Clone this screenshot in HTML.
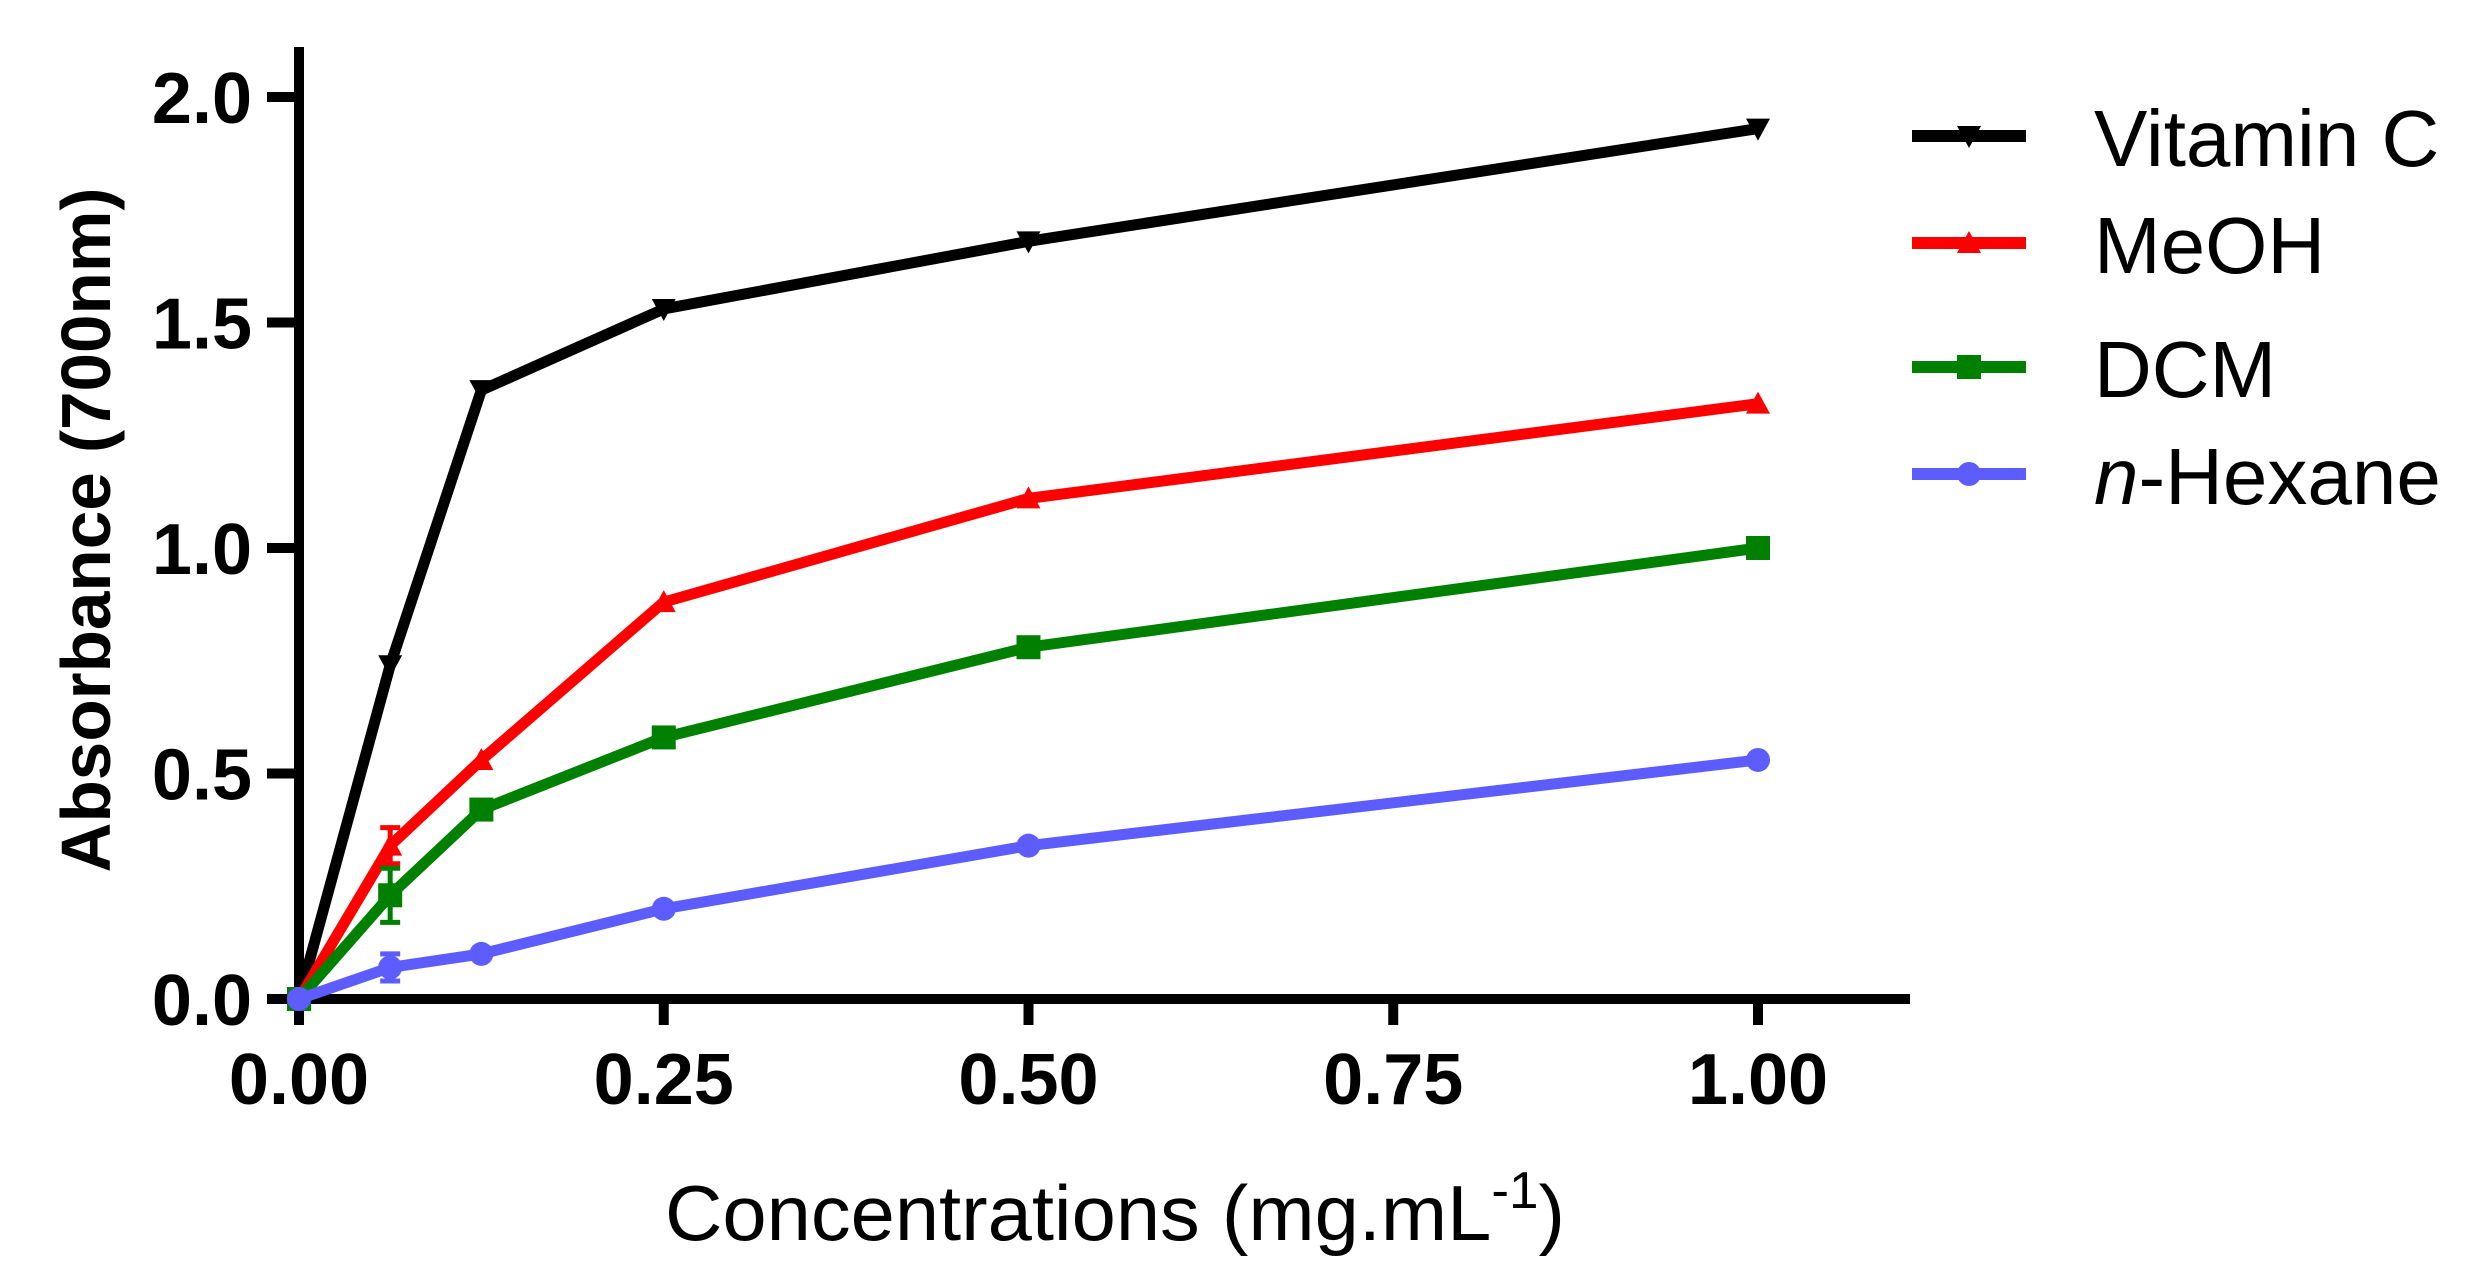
<!DOCTYPE html>
<html><head><meta charset="utf-8"><style>
html,body{margin:0;padding:0;background:#fff;}
svg{display:block;font-family:"Liberation Sans",sans-serif;}
</style></head><body>
<svg id="chart" width="2479" height="1275" viewBox="0 0 2479 1275">
<g id="axes"></g>
<g id="plot"></g>
<g id="legend"></g>
<text x="86" y="530" transform="rotate(-90 86 530)" text-anchor="middle" dominant-baseline="central" font-weight="bold" font-size="70" textLength="685" lengthAdjust="spacingAndGlyphs">Absorbance (700nm)</text>
<text x="1115" y="1240" text-anchor="middle" font-size="78" textLength="900" lengthAdjust="spacingAndGlyphs">Concentrations (mg.mL<tspan dy="-32" font-size="52">-1</tspan><tspan dy="32">)</tspan></text>
</svg>
<script>
const xValues = [0, 0.0625, 0.125, 0.25, 0.5, 1];
const vitaminC = [0, 0.74, 1.35, 1.53, 1.68, 1.93];
const meoh = [0, 0.34, 0.53, 0.88, 1.11, 1.32];
const dcm = [0, 0.23, 0.42, 0.58, 0.78, 1.0];
const hexane = [0, 0.07, 0.10, 0.20, 0.34, 0.53];
const meohErr = [0, 0.04, 0, 0, 0, 0];
const dcmErr = [0, 0.06, 0, 0, 0, 0];
const hexaneErr = [0, 0.03, 0, 0.01, 0, 0];
const xTicks = [0, 0.25, 0.5, 0.75, 1];
const xTickLabels = ["0.00", "0.25", "0.50", "0.75", "1.00"];
const yTicks = [0, 0.5, 1, 1.5, 2];
const yTickLabels = ["0.0", "0.5", "1.0", "1.5", "2.0"];
const seriesNames = ["Vitamin C", "MeOH", "DCM", "n-Hexane"];

const NS = "http://www.w3.org/2000/svg";
const X0 = 299, X1 = 1758, Y0 = 999, Y2 = 97;
function sx(v){ return X0 + v * (X1 - X0); }
function sy(v){ return Y0 - v * (Y0 - Y2) / 2; }
function mk(tag, attrs, parent){
  const e = document.createElementNS(NS, tag);
  for (const k in attrs) e.setAttribute(k, attrs[k]);
  parent.appendChild(e);
  return e;
}
const axes = document.getElementById('axes');
const plot = document.getElementById('plot');
const legend = document.getElementById('legend');

let l = mk('line', {x1: X0, y1: 47, x2: X0, y2: Y0 + 5, stroke: '#000', 'stroke-width': 10}, axes);


l = mk('line', {x1: X0 - 5, y1: Y0, x2: 1910, y2: Y0, stroke: '#000', 'stroke-width': 10}, axes);



xTicks.forEach((t, i) => {
  const tk = mk('line', {x1: sx(t), y1: Y0, x2: sx(t), y2: 1025, stroke: '#000', 'stroke-width': 10}, axes);
  
  
  const tx = mk('text', {x: sx(t), y: 1104, 'text-anchor': 'middle', 'font-size': 72, 'font-weight': 'bold'}, axes);
  tx.textContent = xTickLabels[i];
  
  
});
yTicks.forEach((t, i) => {
  const tk = mk('line', {x1: 267, y1: sy(t), x2: X0, y2: sy(t), stroke: '#000', 'stroke-width': 10}, axes);
  
  
  const tx = mk('text', {x: 252, y: sy(t) + 26, 'text-anchor': 'end', 'font-size': 72, 'font-weight': 'bold'}, axes);
  tx.textContent = yTickLabels[i];
  
  
});

function marker(shape, x, y, color, parent){
  let m;
  if (shape === 'tri-down') m = mk('polygon', {points: `${x-12},${y-10} ${x+12},${y-10} ${x},${y+12}`, fill: color}, parent);
  else if (shape === 'tri-up') m = mk('polygon', {points: `${x-12},${y+10} ${x+12},${y+10} ${x},${y-12}`, fill: color}, parent);
  else if (shape === 'square') m = mk('rect', {x: x-12, y: y-12, width: 24, height: 24, fill: color}, parent);
  else m = mk('circle', {cx: x, cy: y, r: 12, fill: color}, parent);
  return m;
}

const series = [
  {vals: vitaminC, err: null, color: '#000000', shape: 'tri-down', name: 'vitamin-c'},
  {vals: meoh, err: meohErr, color: '#ff0000', shape: 'tri-up', name: 'meoh'},
  {vals: dcm, err: dcmErr, color: '#008000', shape: 'square', name: 'dcm'},
  {vals: hexane, err: hexaneErr, color: '#5c5cff', shape: 'circle', name: 'n-hexane'}
];
series.forEach((s, si) => {
  const g = mk('g', {}, plot);
  
  
  const pts = xValues.map((x, i) => sx(x) + ',' + sy(s.vals[i])).join(' ');
  const pl = mk('polyline', {points: pts, fill: 'none', stroke: s.color, 'stroke-width': 11, 'stroke-linejoin': 'round'}, g);
  
  
  xValues.forEach((x, i) => {
    if (s.err && s.err[i] > 0) {
      const cx = sx(x), yt = sy(s.vals[i] + s.err[i]), yb = sy(s.vals[i] - s.err[i]);
      const eb = mk('path', {d: `M${cx},${yt}V${yb}M${cx-10},${yt}H${cx+10}M${cx-10},${yb}H${cx+10}`, stroke: s.color, 'stroke-width': 5, fill: 'none'}, g);
      
      
    }
    const m = marker(s.shape, sx(x), sy(s.vals[i]), s.color, g);
    
    
  });
  const ly = [136, 243, 367, 474][si];
  const lg = mk('g', {}, legend);
  
  
  mk('line', {x1: 1912, y1: ly, x2: 2026, y2: ly, stroke: s.color, 'stroke-width': 12}, lg);
  marker(s.shape, 1969, ly, s.color, lg);
  const t = mk('text', {x: 2094, y: ly + 30, 'font-size': 80}, lg);
  if (si === 3) {
    const it = mk('tspan', {'font-style': 'italic'}, t);
    it.textContent = 'n';
    const rest = mk('tspan', {}, t);
    rest.textContent = '-Hexane';
  } else {
    t.textContent = seriesNames[si];
  }
});
</script>
</body></html>
